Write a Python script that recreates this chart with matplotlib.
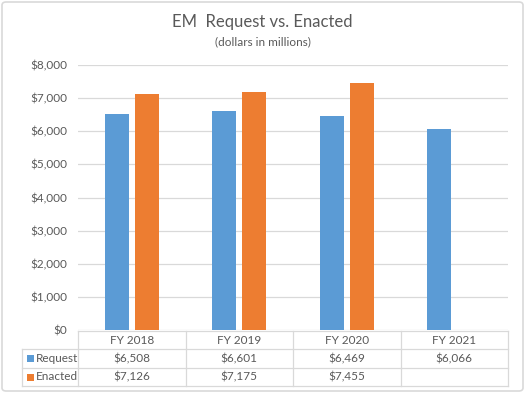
import matplotlib
matplotlib.use("Agg")
import matplotlib.pyplot as plt
from matplotlib.patches import FancyBboxPatch, Rectangle
import numpy as np

categories = ["FY 2018", "FY 2019", "FY 2020", "FY 2021"]
request = [6508, 6601, 6469, 6066]
enacted = [7126, 7175, 7455, None]
series_names = ["Request", "Enacted"]
colors = ["#5B9BD5", "#ED7D31"]
yticks = [0, 1000, 2000, 3000, 4000, 5000, 6000, 7000, 8000]

plt.rcParams['font.family'] = ['Lato', 'DejaVu Sans']
txt = "#595959"
grid = "#D9D9D9"

W, H = 525, 393
fig = plt.figure(figsize=(W/100, H/100), dpi=100)
border = FancyBboxPatch((2/W, 2/H), 1-4/W, 1-4/H,
                        boxstyle="round,pad=0,rounding_size=0.008",
                        transform=fig.transFigure, fc="none", ec="#D9D9D9", lw=1.2, zorder=-5)
fig.add_artist(border)

ax = fig.add_axes([78/W, (H-330)/H, 430/W, 265/H])
ax.set_facecolor("none")
x = np.arange(len(categories))
bw = 0.22
off = 0.14
ax.bar(x - off, request, bw, color=colors[0], zorder=3)
enx = [xi + off for xi, v in zip(x, enacted) if v is not None]
env = [v for v in enacted if v is not None]
ax.bar(enx, env, bw, color=colors[1], zorder=3)

ax.set_xlim(-0.5, 3.5)
ax.set_ylim(0, 8000)
ax.set_yticks(yticks)
ax.set_yticklabels([f"${v:,}" for v in yticks], color=txt, fontsize=8.5)
ax.tick_params(axis='y', length=0, pad=8)
ax.set_xticks([])
ax.grid(axis='y', color=grid, lw=0.9, zorder=0)
ax.set_axisbelow(True)
for s in ax.spines.values():
    s.set_visible(False)

# Title
fig.text(0.5, 1-22/H, "EM  Request vs. Enacted", ha='center', va='center', fontsize=12, color=txt)
fig.text(0.5, 1-42/H, "(dollars in millions)", ha='center', va='center', fontsize=8.5, color=txt)

# Data table drawn in figure pixel coordinates
def fx(px): return px / W
def fy(py): return 1 - py / H

row_y = [331, 349, 368, 386]
col_x = [78 + 107.5 * i for i in range(5)]
lab_left = 22
lc = dict(color=grid, lw=0.9, transform=fig.transFigure)
fig.add_artist(plt.Line2D([fx(col_x[0]), fx(col_x[-1])], [fy(row_y[0])]*2, **lc))
for ry in row_y[1:]:
    fig.add_artist(plt.Line2D([fx(lab_left), fx(col_x[-1])], [fy(ry)]*2, **lc))
for cx in col_x:
    fig.add_artist(plt.Line2D([fx(cx)]*2, [fy(row_y[0]), fy(row_y[-1])], **lc))
fig.add_artist(plt.Line2D([fx(lab_left)]*2, [fy(row_y[1]), fy(row_y[-1])], **lc))

for i, c in enumerate(categories):
    fig.text(fx(col_x[i] + 53.75), fy((row_y[0] + row_y[1]) / 2), c, ha='center', va='center',
             fontsize=8.5, color=txt)
rows = [request, enacted]
for r, (name, vals, col) in enumerate(zip(series_names, rows, colors)):
    yc = fy((row_y[r+1] + row_y[r+2]) / 2)
    fig.add_artist(Rectangle((fx(27), yc - 3.5/H), 7/W, 7/H, transform=fig.transFigure,
                             fc=col, ec='none'))
    fig.text(fx(36), yc, name, ha='left', va='center', fontsize=8.5, color=txt)
    for i, v in enumerate(vals):
        if v is not None:
            fig.text(fx(col_x[i] + 53.75), yc, f"${v:,}", ha='center', va='center',
                     fontsize=8.5, color=txt)

fig.savefig("out.png", dpi=100)
